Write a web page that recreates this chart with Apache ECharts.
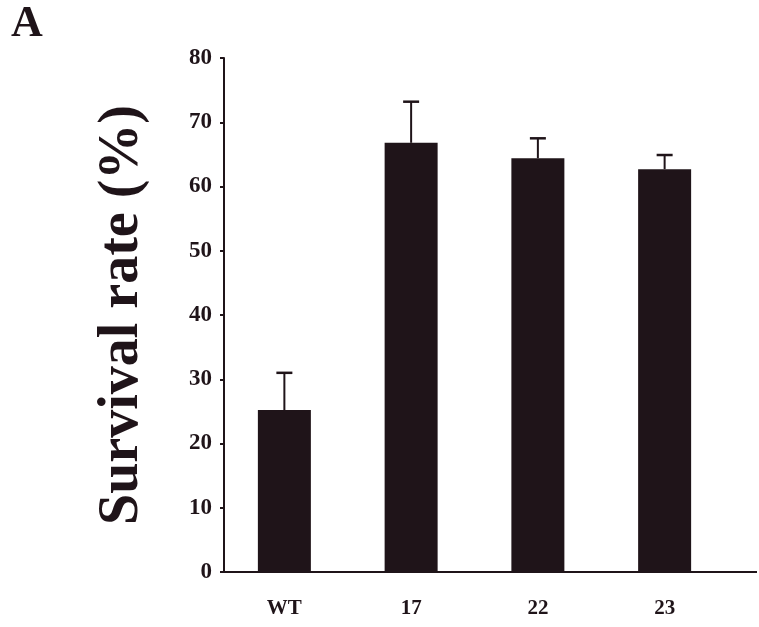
<!DOCTYPE html>
<html>
<head>
<meta charset="utf-8">
<script src="https://cdn.jsdelivr.net/npm/echarts@6/dist/echarts.min.js"></script>
<style>html,body{margin:0;padding:0;background:#fff}#c{width:759px;height:627px}</style>
</head>
<body>
<div id="c"></div>
<script>
var categories = ['WT', '17', '22', '23'];
var survival = [25.2, 66.8, 64.4, 62.7];
var errorTop = [31.0, 73.2, 67.5, 64.9];
var yTicks = [0, 10, 20, 30, 40, 50, 60, 70, 80];

var chart = echarts.init(document.getElementById('c'));
var ink = '#1f1419';
var serif = '"Liberation Serif", "DejaVu Serif", serif';
chart.setOption({
  backgroundColor: '#ffffff',
  animation: false,
  graphic: [{
    type: 'text', left: 11, top: 3,
    style: { text: 'A', font: 'bold 44px ' + serif, fill: ink }
  }, {
    type: 'line', shape: { x1: 728, y1: 572, x2: 757, y2: 572 },
    style: { stroke: ink, lineWidth: 2 }
  }],
  grid: { left: 221, width: 507, top: 58, bottom: 55 },
  xAxis: {
    type: 'category', data: categories,
    axisLine: { lineStyle: { color: ink, width: 2 } },
    axisTick: { show: false },
    axisLabel: { margin: 26, color: ink, fontFamily: serif, fontWeight: 'bold', fontSize: 21 }
  },
  yAxis: {
    type: 'value', min: 0, max: 80, interval: 10, offset: -3,
    name: 'Survival rate (%)', nameLocation: 'middle', nameGap: 73,
    nameTextStyle: { color: ink, fontFamily: serif, fontWeight: 'bold', fontSize: 56 },
    axisLine: { show: true, lineStyle: { color: ink, width: 2 } },
    axisTick: { show: true, length: 4, inside: false, lineStyle: { color: ink, width: 2 } },
    splitLine: { show: false },
    axisLabel: { margin: 12, color: ink, fontFamily: serif, fontWeight: 'bold', fontSize: 23,
      formatter: function (v) { return yTicks.indexOf(v) >= 0 ? String(v) : ''; } }
  },
  series: [{
    type: 'bar', data: survival, barWidth: 53,
    itemStyle: { color: ink }
  }, {
    type: 'custom', z: 1,
    data: errorTop.map(function (t, i) { return [i, survival[i], t]; }),
    renderItem: function (params, api) {
      var i = api.value(0);
      var base = api.coord([i, api.value(1)]);
      var top = api.coord([i, api.value(2)]);
      var half = 8;
      return {
        type: 'group',
        children: [{
          type: 'line', shape: { x1: base[0], y1: base[1], x2: top[0], y2: top[1] },
          style: { stroke: ink, lineWidth: 2 }
        }, {
          type: 'line', shape: { x1: top[0] - half, y1: top[1], x2: top[0] + half, y2: top[1] },
          style: { stroke: ink, lineWidth: 2.5 }
        }]
      };
    }
  }]
});
</script>
</body>
</html>
